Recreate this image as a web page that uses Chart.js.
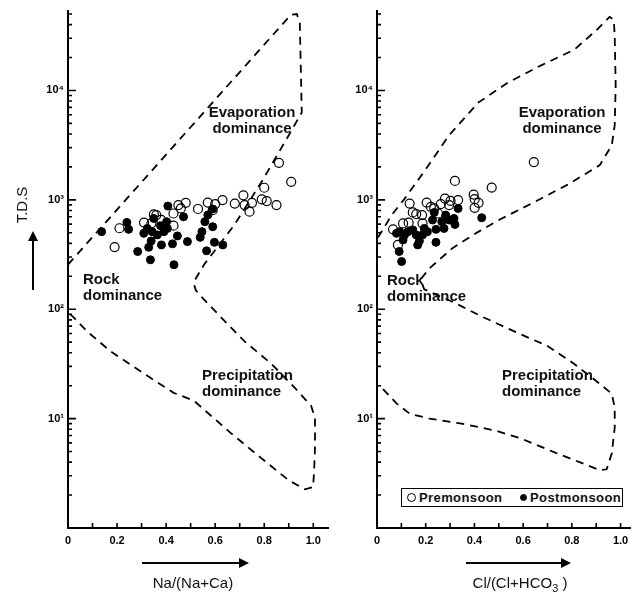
<!DOCTYPE html>
<html>
<head>
<meta charset="utf-8">
<script src="https://cdn.jsdelivr.net/npm/chart.js@4.4.1/dist/chart.umd.min.js"></script>
<style>
  html, body { margin: 0; padding: 0; background: #fff; }
  #wrap { position: relative; width: 636px; height: 596px; overflow: hidden;
          font-family: "Liberation Sans", Arial, sans-serif; color: #111; }
  canvas { position: absolute; left: 0; top: 0; }
  .note { position: absolute; font-weight: bold; font-size: 15px; line-height: 16px; white-space: nowrap; }
  .title { position: absolute; font-size: 15px; line-height: 18px; white-space: nowrap; text-align: center; }
  #legend { position: absolute; left: 401px; top: 488px; width: 220px; height: 17px;
            border: 1px solid #000; background: #fff; font-weight: bold; font-size: 13px; letter-spacing: 0.4px; }
  #legend span { position: absolute; top: 1px; line-height: 15px; }
  .sym { position: absolute; border-radius: 50%; border: 1.2px solid #000; box-sizing: border-box; }
  svg { position: absolute; left: 0; top: 0; }
</style>
</head>
<body>
<div id="wrap">
  <canvas id="left" width="636" height="596"></canvas>
  <canvas id="right" width="636" height="596"></canvas>

  <div class="note" style="left:192px; top:104px; width:120px; text-align:center;">Evaporation<br>dominance</div>
  <div class="note" style="left:83px; top:271px;">Rock<br>dominance</div>
  <div class="note" style="left:202px; top:367px;">Precipitation<br>dominance</div>

  <div class="note" style="left:502px; top:104px; width:120px; text-align:center;">Evaporation<br>dominance</div>
  <div class="note" style="left:387px; top:272px;">Rock<br>dominance</div>
  <div class="note" style="left:502px; top:367px;">Precipitation<br>dominance</div>

  <div class="title" style="left:133px; top:574px; width:120px;">Na/(Na+Ca)</div>
  <div class="title" style="left:450px; top:574px; width:140px;">Cl/(Cl+HCO<sub style="font-size:11px; line-height:0;">3</sub> )</div>
  <div class="title" style="left:-8px; top:196px; width:60px; transform:rotate(-90deg);">T.D.S</div>

  <div id="legend">
    <div class="sym" style="left:5px; top:4px; width:9px; height:9px;"></div>
    <span style="left:17px;">Premonsoon</span>
    <div class="sym" style="left:118px; top:5px; width:7px; height:7px; background:#000;"></div>
    <span style="left:128px;">Postmonsoon</span>
  </div>

  <svg width="636" height="596">
    <line x1="142" y1="563" x2="240" y2="563" stroke="#000" stroke-width="2"/>
    <polygon points="239,558 249,563 239,568" fill="#000"/>
    <line x1="466" y1="563" x2="562" y2="563" stroke="#000" stroke-width="2"/>
    <polygon points="561,558 571,563 561,568" fill="#000"/>
    <line x1="33" y1="290" x2="33" y2="240" stroke="#000" stroke-width="2"/>
    <polygon points="28,241 33,231 38,241" fill="#000"/>
  </svg>
</div>

<script>
// ---- axis ticks ----
const xTicks = [0, 0.1, 0.2, 0.3, 0.4, 0.5, 0.6, 0.7, 0.8, 0.9, 1.0];
const xTickLabels = ['0', '', '0.2', '', '0.4', '', '0.6', '', '0.8', '', '1.0'];
const yMajor = [10, 100, 1000, 10000];
const yMajorLabels = ['10¹', '10²', '10³', '10⁴'];
const yMin = 1;
const yMax = 53700;

// ---- left panel: Na/(Na+Ca) vs TDS ----
const preNa = [0.86, 0.91, 0.80, 0.715, 0.79, 0.81, 0.85, 0.68, 0.72, 0.75, 0.74, 0.63, 0.57, 0.60,
               0.59, 0.53, 0.48, 0.45, 0.46, 0.43, 0.35, 0.36, 0.38, 0.31, 0.34, 0.43, 0.21, 0.19];
const preTdsNa = [2180, 1460, 1290, 1100, 1010, 975, 895, 925, 895, 940, 780, 995, 945, 915,
                  805, 825, 940, 895, 835, 750, 735, 725, 655, 620, 610, 580, 550, 370];
const postNa = [0.137, 0.24, 0.247, 0.407, 0.471, 0.59, 0.57, 0.558, 0.59, 0.546, 0.539, 0.487, 0.446,
                0.426, 0.381, 0.329, 0.339, 0.309, 0.323, 0.35, 0.377, 0.391, 0.405, 0.364, 0.402,
                0.284, 0.336, 0.432, 0.565, 0.597, 0.631, 0.343];
const postTdsNa = [512, 622, 537, 877, 700, 823, 726, 631, 568, 512, 454, 415, 468,
                   396, 387, 368, 421, 494, 548, 676, 580, 512, 548, 478, 631,
                   337, 283, 255, 342, 409, 387, 512];
// Gibbs boundary (dashed)
const envNaX = [0, 0.908, 0.933, 0.945, 0.953, 0.912, 0.789, 0.679, 0.555, 0.521, 0.513, 0.521, 0.554,
                0.612, 0.719, 0.830, 0.925, 0.991, 1.007, 1.007, 1.003, 0.999, 0.966, 0.900, 0.789,
                0.666, 0.513, 0.431, 0.336, 0.172, 0.077, 0.019, 0.003];
const envNaY = [256, 49000, 50000, 41500, 6310, 4330, 1458, 593, 256, 191, 172, 149, 123,
                90, 51, 31.6, 19.1, 13.1, 10.2, 5.45, 3.16, 2.36, 2.26, 2.73, 4.33,
                7.3, 14.6, 17.2, 23.6, 41.5, 63, 86, 92];

// ---- right panel: Cl/(Cl+HCO3) vs TDS ----
const preCl = [0.644, 0.471, 0.32, 0.397, 0.401, 0.417, 0.401, 0.333, 0.302, 0.279, 0.262, 0.235, 0.221,
               0.204, 0.251, 0.134, 0.147, 0.161, 0.185, 0.107, 0.13, 0.187, 0.066, 0.086, 0.296];
const preTdsCl = [2215, 1294, 1489, 1117, 1015, 939, 846, 994, 979, 1028, 914, 834, 864,
                  945, 750, 925, 767, 741, 726, 609, 618, 609, 537, 387, 895];
const postCl = [0.43, 0.333, 0.316, 0.32, 0.296, 0.282, 0.266, 0.275, 0.242, 0.242, 0.235, 0.228, 0.194,
                0.187, 0.174, 0.167, 0.147, 0.127, 0.113, 0.107, 0.093, 0.08, 0.091, 0.101, 0.161, 0.207];
const postTdsCl = [686, 834, 676, 596, 654, 726, 631, 548, 537, 409, 767, 654, 548,
                   478, 421, 387, 531, 512, 478, 430, 512, 494, 337, 273, 478, 512];
const envClX = [0.004, 0.061, 0.113, 0.201, 0.296, 0.417, 0.538, 0.672, 0.810, 0.903, 0.955, 0.972, 0.976,
                0.980, 0.976, 0.964, 0.915, 0.781, 0.648, 0.510, 0.417, 0.308, 0.215, 0.182, 0.186,
                0.194, 0.324, 0.429, 0.579, 0.700, 0.810, 0.915, 0.964, 0.976, 0.976, 0.964, 0.943,
                0.915, 0.834, 0.729, 0.591, 0.486, 0.348, 0.215, 0.134, 0.081, 0.024, 0.012];
const envClY = [452, 731, 1021, 1914, 3900, 7780, 11820, 16870, 23600, 35880, 47100, 44200, 31600,
                11100, 4810, 3160, 2080, 1369, 959, 671, 512, 359, 236, 191, 169,
                152, 113, 86, 60.5, 46.1, 31.6, 20.8, 16.9, 12.6, 8.28, 4.81, 3.44,
                3.37, 3.98, 4.91, 6.58, 7.78, 9.0, 10, 11.1, 13.7, 18.7, 20];

Chart.defaults.font.family = '"Liberation Sans", Arial, sans-serif';
Chart.defaults.color = '#111';

function toPoints(xs, ys) {
    return xs.map((x, i) => ({ x: x, y: ys[i] }));
}

// y ticks: 1..9 in each decade, labels only on powers of ten
function yTickValues() {
    const vals = [];
    for (let d = 1; d <= 10000; d *= 10) {
        for (let m = 1; m <= 9; m++) {
            if (d * m <= yMax) vals.push(d * m);
        }
    }
    return vals;
}

// inside tick marks like the original plot
const innerTicks = {
    id: 'innerTicks',
    afterDraw(chart) {
        const { ctx, chartArea, scales } = chart;
        ctx.save();
        ctx.strokeStyle = '#000';
        ctx.lineWidth = 1.6;
        ctx.beginPath();
        xTicks.forEach(v => {
            if (v === 0) return;
            const px = scales.x.getPixelForValue(v);
            ctx.moveTo(px, chartArea.bottom);
            ctx.lineTo(px, chartArea.bottom - 5);
        });
        yTickValues().forEach(v => {
            if (v === 1) return;
            const py = scales.y.getPixelForValue(v);
            const len = yMajor.includes(v) ? 8 : 4;
            ctx.moveTo(chartArea.left, py);
            ctx.lineTo(chartArea.left + len, py);
        });
        ctx.stroke();
        ctx.restore();
    }
};

function makeChart(id, leftW, rightPad, xMax, pre, post, env) {
    return new Chart(document.getElementById(id), {
        type: 'scatter',
        data: {
            datasets: [
                { label: 'Premonsoon', data: pre, pointRadius: 4.5, pointHoverRadius: 4.5,
                  backgroundColor: 'rgba(255,255,255,0)', borderColor: '#000', borderWidth: 1.2 },
                { label: 'Postmonsoon', data: post, pointRadius: 4, pointHoverRadius: 4,
                  backgroundColor: '#000', borderColor: '#000', borderWidth: 1 },
                { label: 'boundary', data: env, showLine: true, pointRadius: 0, fill: false,
                  borderColor: '#000', borderWidth: 1.8, borderDash: [8, 6], tension: 0, clip: false }
            ]
        },
        options: {
            responsive: false,
            animation: false,
            events: [],
            layout: { padding: { top: 10, right: rightPad, left: 0, bottom: 0 } },
            plugins: { legend: { display: false }, tooltip: { enabled: false } },
            scales: {
                x: {
                    type: 'linear', min: 0, max: xMax,
                    afterFit: s => { s.height = 68; },
                    afterBuildTicks: s => { s.ticks = xTicks.map(v => ({ value: v })); },
                    grid: { display: true, drawOnChartArea: false, drawTicks: false, color: 'rgba(0,0,0,0)' },
                    border: { display: true, color: '#000', width: 2 },
                    ticks: {
                        autoSkip: false, maxRotation: 0, padding: 6,
                        font: { size: 11, weight: 'bold' }, color: '#000',
                        callback: (v, i) => xTickLabels[i]
                    }
                },
                y: {
                    type: 'logarithmic', min: yMin, max: yMax,
                    afterFit: s => { s.width = leftW; },
                    afterBuildTicks: s => { s.ticks = yTickValues().map(v => ({ value: v })); },
                    grid: { display: true, drawOnChartArea: false, drawTicks: false, color: 'rgba(0,0,0,0)' },
                    border: { display: true, color: '#000', width: 2 },
                    ticks: {
                        autoSkip: false, padding: 4,
                        font: { size: 11, weight: 'bold' }, color: '#000',
                        callback: v => {
                            const k = yMajor.indexOf(v);
                            return k >= 0 ? yMajorLabels[k] : '';
                        }
                    }
                }
            }
        },
        plugins: [innerTicks]
    });
}

makeChart('left', 68, 308, 1.06,
    toPoints(preNa, preTdsNa), toPoints(postNa, postTdsNa), toPoints(envNaX, envNaY));
makeChart('right', 377, 1, 1.04,
    toPoints(preCl, preTdsCl), toPoints(postCl, postTdsCl), toPoints(envClX, envClY));
</script>
</body>
</html>
